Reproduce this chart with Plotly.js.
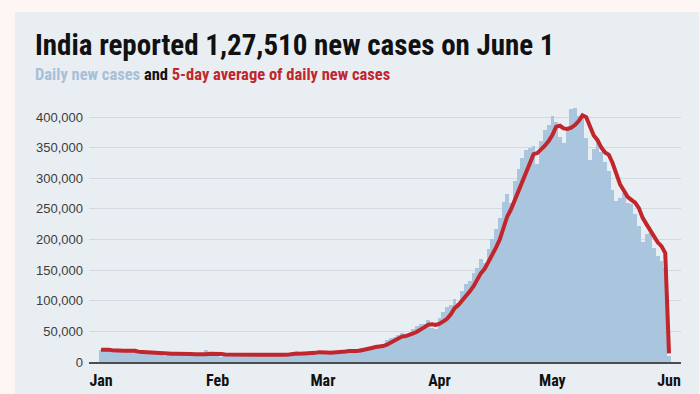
<!DOCTYPE html>
<html>
<head>
<meta charset="utf-8">
<script src="https://cdn.plot.ly/plotly-3.0.1.min.js"></script>
<style>
  html, body { margin: 0; padding: 0; width: 700px; height: 394px; background: #fdf6f4; overflow: hidden; }
  #chart { position: absolute; left: 15px; top: 12px; width: 684px; height: 382px; }
</style>
</head>
<body>
<div id="chart"></div>
<script>
// Daily new cases, 1 Jan 2021 -> 1 Jun 2021 (one value per day)
const startDate = '2021-01-01';
const dailyJan = [20035,19079,18177,16504,18088,20346,18139,18222,18645,16311,12584,15968,16946,15590,15158,15144,13788,10064,13823,15223,14545,14256,14849,13203,9102,12689,11666,11700,18855,13083,13052];
const dailyFeb = [11427,8635,12899,12408,12408,11713,12059,11831,9110,11067,12923,9309,12143,12194,11649,9121,11610,12881,13193,13993,14264,14199,10584,13742,16738,16577,16752,16488];
const dailyMar = [15510,12286,14989,17407,16838,18327,18711,18599,15388,17921,22854,23285,24882,25320,26291,24492,28903,35871,39726,40953,43846,46951,40715,47262,53476,59118,62258,62714,68020,56211,53480];
const dailyApr = [72330,81466,89129,93249,103558,96982,115736,126789,131968,145384,152879,168912,161736,184372,200739,217353,234692,261500,273810,259170,295041,314835,332730,346786,349691,352991,323144,360960,379257,386452];
const dailyMay = [401993,392488,368147,357229,382315,412262,414188,401078,403738,366161,329942,348421,362727,343144,326098,311170,281386,263533,267334,276110,259551,257299,240842,222315,196427,208921,211298,186364,173790,165553,152734];
const dailyJun = [10000];

// 5-day average of daily new cases (as drawn)
const avgJan = [20100,20600,20200,19200,18400,18400,18200,18200,18700,18300,16800,16300,16100,15500,15300,15800,15300,14000,13600,13600,13500,13600,14500,14400,13200,12800,12300,11700,12800,13600,13700];
const avgFeb = [13600,13000,12200,12100,11900,11900,12300,12100,11600,11400,11600,11200,11200,11500,11600,11200,11400,11600,11800,12200,13200,13700,13300,13400,13900,14400,14900,16100];
const avgMar = [16400,15500,15200,15300,15400,16000,17200,18000,17600,17800,18700,19600,20900,22900,24500,24900,26000,28200,31100,34000,37900,41500,42400,44000,46500,49500,52600,57000,61100,61700,60500];
const avgApr = [62500,66300,70500,77900,87900,92900,99700,107300,115000,123400,134600,145200,152200,162700,173700,186600,199800,219700,237600,249300,264800,280900,295100,309700,327800,339400,341100,346700,353200,360600];
const avgMay = [370400,384300,385700,381300,380400,382500,386800,393400,402700,399500,383000,369900,362200,350100,342000,338300,324900,305100,289900,279900,269600,264800,260200,251200,235300,225100,215900,205100,195400,189200,178000];
const avgJun = [14000];

const monthTickVals = ['2021-01-01','2021-02-01','2021-03-01','2021-04-01','2021-05-01','2021-06-01'];
const monthTickText = ['Jan','Feb','Mar','Apr','May','Jun'];
const yTickVals = [0,50000,100000,150000,200000,250000,300000,350000,400000];

const daily = [].concat(dailyJan, dailyFeb, dailyMar, dailyApr, dailyMay, dailyJun);
const avg = [].concat(avgJan, avgFeb, avgMar, avgApr, avgMay, avgJun);

const dates = [];
const d0 = new Date(startDate + 'T00:00:00Z');
for (let i = 0; i < daily.length; i++) {
  const d = new Date(d0.getTime() + i * 86400000);
  dates.push(d.toISOString().slice(0, 10));
}

const bars = {
  type: 'bar', x: dates, y: daily,
  marker: { color: '#a9c6de', line: { width: 0 } },
  hoverinfo: 'skip', showlegend: false
};
const line = {
  type: 'scatter', mode: 'lines', x: dates, y: avg,
  line: { color: '#c0262c', width: 4, shape: 'linear' },
  hoverinfo: 'skip', showlegend: false
};

const cond = '"Roboto Condensed", Roboto, sans-serif';

const layout = {
  width: 684, height: 382,
  paper_bgcolor: '#e9eef3', plot_bgcolor: '#e9eef3',
  margin: { l: 74, r: 18, t: 87, b: 32, pad: 0 },
  bargap: 0,
  xaxis: {
    type: 'date',
    range: ['2020-12-28 19:24', '2021-06-04 04:35'],
    tickmode: 'array', tickvals: monthTickVals, ticktext: monthTickText,
    showgrid: false, zeroline: false,
    showline: true, linecolor: '#4d4d4d', linewidth: 1.5,
    ticks: '', ticklabelstandoff: 3,
    tickfont: { family: cond, size: 16, color: '#111111', weight: 'bold' },
    fixedrange: true
  },
  yaxis: {
    range: [0, 429388],
    tickmode: 'array', tickvals: yTickVals,
    tickformat: ',d',
    showgrid: true, gridcolor: '#d3d9df', gridwidth: 1,
    zeroline: false, showline: false, ticks: '',
    ticklabelstandoff: 5,
    tickfont: { family: '"Liberation Sans", Arial, sans-serif', size: 13, color: '#3c3c3c' },
    fixedrange: true
  },
  annotations: [
    {
      xref: 'paper', yref: 'paper', x: -0.0946, y: 1.205,
      xanchor: 'left', yanchor: 'middle', showarrow: false,
      text: '<b>India reported 1,27,510 new cases on June 1</b>',
      font: { family: cond, size: 29, color: '#111111' }
    },
    {
      xref: 'paper', yref: 'paper', x: -0.0946, y: 1.092,
      xanchor: 'left', yanchor: 'middle', showarrow: false,
      text: '<b><span style="color:#a7c0d8">Daily new cases</span> <span style="color:#111111">and</span> <span style="color:#c0262c">5-day average of daily new cases</span></b>',
      font: { family: cond, size: 16.5, color: '#111111' }
    }
  ]
};

Plotly.newPlot('chart', [bars, line], layout, { displayModeBar: false, staticPlot: true });
</script>
</body>
</html>
